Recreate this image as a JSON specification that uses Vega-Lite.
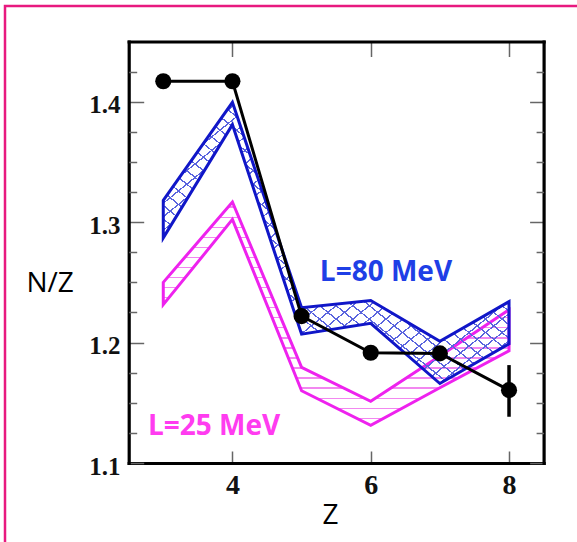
{
"$schema": "https://vega.github.io/schema/vega-lite/v6.json",
"width": 572, "height": 536,
"autosize": "none",
"padding": {"left": 5, "top": 6, "right": 0, "bottom": 0},
"background": "white",
"config": {
  "view": {"stroke": "#e8197f", "strokeWidth": 2.5, "strokeDash": [572, 1108, 540]},
  "axis": {"grid": false, "domainColor": "black", "domainWidth": 3.2, "domainCap": "square", "tickColor": "#666", "tickWidth": 1.5, "labelFont": "Liberation Serif", "labelFontWeight": "bold", "labelColor": "#111", "labelFlush": false, "labelOverlap": false, "labelBound": false, "titleFont": "Open Sans", "titleFontWeight": "normal", "titleColor": "black", "titleFontSize": 28}
},
"datasets": {
  "l25": [{"Z":3,"lo":1.2315,"hi":1.250},{"Z":4,"lo":1.3023,"hi":1.3167},{"Z":5,"lo":1.160,"hi":1.1794},{"Z":6,"lo":1.1312,"hi":1.1512},{"Z":7,"lo":1.1625,"hi":1.1888},{"Z":8,"lo":1.1932,"hi":1.2272}],
  "l80": [{"Z":3,"lo":1.287,"hi":1.318},{"Z":4,"lo":1.381,"hi":1.3995},{"Z":5,"lo":1.207,"hi":1.229},{"Z":6,"lo":1.216,"hi":1.235},{"Z":7,"lo":1.166,"hi":1.201},{"Z":8,"lo":1.199,"hi":1.234}],
  "exp": [{"Z":3,"NZ":1.417},{"Z":4,"NZ":1.417},{"Z":5,"NZ":1.222},{"Z":6,"NZ":1.1915},{"Z":7,"NZ":1.191},{"Z":8,"NZ":1.1605}],
  "err": [{"Z":8,"lo":1.1384,"hi":1.1813}],
  "notes": [{"Z":5.264,"NZ":1.2509,"label":"L=80 MeV","group":"L80"},{"Z":2.779,"NZ":1.1232,"label":"L=25 MeV","group":"L25"}]
},
"resolve": {"axis": {"x": "independent", "y": "independent"}},
"layer": [
  {
    "data": {"name": "l25"},
    "mark": {"type": "area", "stroke": "#ee22ee", "strokeWidth": 3, "strokeJoin": "miter",
      "fill": {"gradient": "linear", "x1": 0, "y1": 0, "x2": 0, "y2": 1, "stops": [
        {"offset":0,"color":"rgba(255,255,255,0)"},
        {"offset":0.020,"color":"rgba(255,255,255,0)"},{"offset":0.020,"color":"#f287f0"},{"offset":0.026,"color":"#f287f0"},{"offset":0.026,"color":"rgba(255,255,255,0)"},
        {"offset":0.065,"color":"rgba(255,255,255,0)"},{"offset":0.065,"color":"#f287f0"},{"offset":0.071,"color":"#f287f0"},{"offset":0.071,"color":"rgba(255,255,255,0)"},
        {"offset":0.110,"color":"rgba(255,255,255,0)"},{"offset":0.110,"color":"#f287f0"},{"offset":0.116,"color":"#f287f0"},{"offset":0.116,"color":"rgba(255,255,255,0)"},
        {"offset":0.155,"color":"rgba(255,255,255,0)"},{"offset":0.155,"color":"#f287f0"},{"offset":0.161,"color":"#f287f0"},{"offset":0.161,"color":"rgba(255,255,255,0)"},
        {"offset":0.200,"color":"rgba(255,255,255,0)"},{"offset":0.200,"color":"#f287f0"},{"offset":0.206,"color":"#f287f0"},{"offset":0.206,"color":"rgba(255,255,255,0)"},
        {"offset":0.245,"color":"rgba(255,255,255,0)"},{"offset":0.245,"color":"#f287f0"},{"offset":0.251,"color":"#f287f0"},{"offset":0.251,"color":"rgba(255,255,255,0)"},
        {"offset":0.290,"color":"rgba(255,255,255,0)"},{"offset":0.290,"color":"#f287f0"},{"offset":0.296,"color":"#f287f0"},{"offset":0.296,"color":"rgba(255,255,255,0)"},
        {"offset":0.335,"color":"rgba(255,255,255,0)"},{"offset":0.335,"color":"#f287f0"},{"offset":0.341,"color":"#f287f0"},{"offset":0.341,"color":"rgba(255,255,255,0)"},
        {"offset":0.380,"color":"rgba(255,255,255,0)"},{"offset":0.380,"color":"#f287f0"},{"offset":0.386,"color":"#f287f0"},{"offset":0.386,"color":"rgba(255,255,255,0)"},
        {"offset":0.425,"color":"rgba(255,255,255,0)"},{"offset":0.425,"color":"#f287f0"},{"offset":0.431,"color":"#f287f0"},{"offset":0.431,"color":"rgba(255,255,255,0)"},
        {"offset":0.470,"color":"rgba(255,255,255,0)"},{"offset":0.470,"color":"#f287f0"},{"offset":0.476,"color":"#f287f0"},{"offset":0.476,"color":"rgba(255,255,255,0)"},
        {"offset":0.515,"color":"rgba(255,255,255,0)"},{"offset":0.515,"color":"#f287f0"},{"offset":0.521,"color":"#f287f0"},{"offset":0.521,"color":"rgba(255,255,255,0)"},
        {"offset":0.560,"color":"rgba(255,255,255,0)"},{"offset":0.560,"color":"#f287f0"},{"offset":0.566,"color":"#f287f0"},{"offset":0.566,"color":"rgba(255,255,255,0)"},
        {"offset":0.605,"color":"rgba(255,255,255,0)"},{"offset":0.605,"color":"#f287f0"},{"offset":0.611,"color":"#f287f0"},{"offset":0.611,"color":"rgba(255,255,255,0)"},
        {"offset":0.650,"color":"rgba(255,255,255,0)"},{"offset":0.650,"color":"#f287f0"},{"offset":0.656,"color":"#f287f0"},{"offset":0.656,"color":"rgba(255,255,255,0)"},
        {"offset":0.695,"color":"rgba(255,255,255,0)"},{"offset":0.695,"color":"#f287f0"},{"offset":0.701,"color":"#f287f0"},{"offset":0.701,"color":"rgba(255,255,255,0)"},
        {"offset":0.740,"color":"rgba(255,255,255,0)"},{"offset":0.740,"color":"#f287f0"},{"offset":0.746,"color":"#f287f0"},{"offset":0.746,"color":"rgba(255,255,255,0)"},
        {"offset":0.785,"color":"rgba(255,255,255,0)"},{"offset":0.785,"color":"#f287f0"},{"offset":0.791,"color":"#f287f0"},{"offset":0.791,"color":"rgba(255,255,255,0)"},
        {"offset":0.830,"color":"rgba(255,255,255,0)"},{"offset":0.830,"color":"#f287f0"},{"offset":0.836,"color":"#f287f0"},{"offset":0.836,"color":"rgba(255,255,255,0)"},
        {"offset":0.875,"color":"rgba(255,255,255,0)"},{"offset":0.875,"color":"#f287f0"},{"offset":0.881,"color":"#f287f0"},{"offset":0.881,"color":"rgba(255,255,255,0)"},
        {"offset":0.920,"color":"rgba(255,255,255,0)"},{"offset":0.920,"color":"#f287f0"},{"offset":0.926,"color":"#f287f0"},{"offset":0.926,"color":"rgba(255,255,255,0)"},
        {"offset":0.965,"color":"rgba(255,255,255,0)"},{"offset":0.965,"color":"#f287f0"},{"offset":0.971,"color":"#f287f0"},{"offset":0.971,"color":"rgba(255,255,255,0)"},
        {"offset":1,"color":"rgba(255,255,255,0)"}
      ]}},
    "encoding": {
      "x": {"field": "Z", "type": "quantitative", "scale": {"domain": [2.5, 8.5], "range": [123.7, 538.6], "nice": false, "zero": false},
        "axis": {"orient": "bottom", "offset": -79, "values": [4, 6, 8], "format": "d", "tickSize": -12, "labelFontSize": 28, "labelBaseline": "alphabetic", "labelPadding": 42, "labelAlign": "center", "title": "Z", "titleX": 325, "titleY": 60, "titleAlign": "center", "titleBaseline": "alphabetic"}},
      "y": {"field": "hi", "type": "quantitative", "scale": {"domain": [1.1, 1.45], "range": [457, 35.5], "nice": false, "zero": false},
        "axis": {"orient": "left", "offset": -123.7, "values": [1.1, 1.2, 1.3, 1.4], "format": ".1f", "tickSize": -15, "labelFontSize": 25, "labelBaseline": "alphabetic", "labelOffset": 11, "labelPadding": 23.7, "labelAlign": "right", "title": "N/Z", "titleAngle": 0, "titleX": -79, "titleY": 285.5, "titleAlign": "center", "titleBaseline": "alphabetic"}},
      "y2": {"field": "lo"}
    }
  },
  {
    "data": {"name": "l80"},
    "mark": {"type": "area", "strokeWidth": 0,
      "fill": {"gradient": "linear", "x1": 1, "y1": 0, "x2": 0, "y2": 1, "stops": [
        {"offset":0,"color":"rgba(255,255,255,0)"},
        {"offset":0.010,"color":"rgba(255,255,255,0)"},{"offset":0.010,"color":"#5a64de"},{"offset":0.013,"color":"#5a64de"},{"offset":0.013,"color":"rgba(255,255,255,0)"},
        {"offset":0.034,"color":"rgba(255,255,255,0)"},{"offset":0.034,"color":"#5a64de"},{"offset":0.037,"color":"#5a64de"},{"offset":0.037,"color":"rgba(255,255,255,0)"},
        {"offset":0.058,"color":"rgba(255,255,255,0)"},{"offset":0.058,"color":"#5a64de"},{"offset":0.061,"color":"#5a64de"},{"offset":0.061,"color":"rgba(255,255,255,0)"},
        {"offset":0.082,"color":"rgba(255,255,255,0)"},{"offset":0.082,"color":"#5a64de"},{"offset":0.085,"color":"#5a64de"},{"offset":0.085,"color":"rgba(255,255,255,0)"},
        {"offset":0.106,"color":"rgba(255,255,255,0)"},{"offset":0.106,"color":"#5a64de"},{"offset":0.109,"color":"#5a64de"},{"offset":0.109,"color":"rgba(255,255,255,0)"},
        {"offset":0.130,"color":"rgba(255,255,255,0)"},{"offset":0.130,"color":"#5a64de"},{"offset":0.133,"color":"#5a64de"},{"offset":0.133,"color":"rgba(255,255,255,0)"},
        {"offset":0.154,"color":"rgba(255,255,255,0)"},{"offset":0.154,"color":"#5a64de"},{"offset":0.157,"color":"#5a64de"},{"offset":0.157,"color":"rgba(255,255,255,0)"},
        {"offset":0.178,"color":"rgba(255,255,255,0)"},{"offset":0.178,"color":"#5a64de"},{"offset":0.181,"color":"#5a64de"},{"offset":0.181,"color":"rgba(255,255,255,0)"},
        {"offset":0.202,"color":"rgba(255,255,255,0)"},{"offset":0.202,"color":"#5a64de"},{"offset":0.205,"color":"#5a64de"},{"offset":0.205,"color":"rgba(255,255,255,0)"},
        {"offset":0.226,"color":"rgba(255,255,255,0)"},{"offset":0.226,"color":"#5a64de"},{"offset":0.229,"color":"#5a64de"},{"offset":0.229,"color":"rgba(255,255,255,0)"},
        {"offset":0.250,"color":"rgba(255,255,255,0)"},{"offset":0.250,"color":"#5a64de"},{"offset":0.253,"color":"#5a64de"},{"offset":0.253,"color":"rgba(255,255,255,0)"},
        {"offset":0.274,"color":"rgba(255,255,255,0)"},{"offset":0.274,"color":"#5a64de"},{"offset":0.277,"color":"#5a64de"},{"offset":0.277,"color":"rgba(255,255,255,0)"},
        {"offset":0.298,"color":"rgba(255,255,255,0)"},{"offset":0.298,"color":"#5a64de"},{"offset":0.301,"color":"#5a64de"},{"offset":0.301,"color":"rgba(255,255,255,0)"},
        {"offset":0.322,"color":"rgba(255,255,255,0)"},{"offset":0.322,"color":"#5a64de"},{"offset":0.325,"color":"#5a64de"},{"offset":0.325,"color":"rgba(255,255,255,0)"},
        {"offset":0.346,"color":"rgba(255,255,255,0)"},{"offset":0.346,"color":"#5a64de"},{"offset":0.349,"color":"#5a64de"},{"offset":0.349,"color":"rgba(255,255,255,0)"},
        {"offset":0.370,"color":"rgba(255,255,255,0)"},{"offset":0.370,"color":"#5a64de"},{"offset":0.373,"color":"#5a64de"},{"offset":0.373,"color":"rgba(255,255,255,0)"},
        {"offset":0.394,"color":"rgba(255,255,255,0)"},{"offset":0.394,"color":"#5a64de"},{"offset":0.397,"color":"#5a64de"},{"offset":0.397,"color":"rgba(255,255,255,0)"},
        {"offset":0.418,"color":"rgba(255,255,255,0)"},{"offset":0.418,"color":"#5a64de"},{"offset":0.421,"color":"#5a64de"},{"offset":0.421,"color":"rgba(255,255,255,0)"},
        {"offset":0.442,"color":"rgba(255,255,255,0)"},{"offset":0.442,"color":"#5a64de"},{"offset":0.445,"color":"#5a64de"},{"offset":0.445,"color":"rgba(255,255,255,0)"},
        {"offset":0.466,"color":"rgba(255,255,255,0)"},{"offset":0.466,"color":"#5a64de"},{"offset":0.469,"color":"#5a64de"},{"offset":0.469,"color":"rgba(255,255,255,0)"},
        {"offset":0.490,"color":"rgba(255,255,255,0)"},{"offset":0.490,"color":"#5a64de"},{"offset":0.493,"color":"#5a64de"},{"offset":0.493,"color":"rgba(255,255,255,0)"},
        {"offset":0.514,"color":"rgba(255,255,255,0)"},{"offset":0.514,"color":"#5a64de"},{"offset":0.517,"color":"#5a64de"},{"offset":0.517,"color":"rgba(255,255,255,0)"},
        {"offset":0.538,"color":"rgba(255,255,255,0)"},{"offset":0.538,"color":"#5a64de"},{"offset":0.541,"color":"#5a64de"},{"offset":0.541,"color":"rgba(255,255,255,0)"},
        {"offset":0.562,"color":"rgba(255,255,255,0)"},{"offset":0.562,"color":"#5a64de"},{"offset":0.565,"color":"#5a64de"},{"offset":0.565,"color":"rgba(255,255,255,0)"},
        {"offset":0.586,"color":"rgba(255,255,255,0)"},{"offset":0.586,"color":"#5a64de"},{"offset":0.589,"color":"#5a64de"},{"offset":0.589,"color":"rgba(255,255,255,0)"},
        {"offset":0.610,"color":"rgba(255,255,255,0)"},{"offset":0.610,"color":"#5a64de"},{"offset":0.613,"color":"#5a64de"},{"offset":0.613,"color":"rgba(255,255,255,0)"},
        {"offset":0.634,"color":"rgba(255,255,255,0)"},{"offset":0.634,"color":"#5a64de"},{"offset":0.637,"color":"#5a64de"},{"offset":0.637,"color":"rgba(255,255,255,0)"},
        {"offset":0.658,"color":"rgba(255,255,255,0)"},{"offset":0.658,"color":"#5a64de"},{"offset":0.661,"color":"#5a64de"},{"offset":0.661,"color":"rgba(255,255,255,0)"},
        {"offset":0.682,"color":"rgba(255,255,255,0)"},{"offset":0.682,"color":"#5a64de"},{"offset":0.685,"color":"#5a64de"},{"offset":0.685,"color":"rgba(255,255,255,0)"},
        {"offset":0.706,"color":"rgba(255,255,255,0)"},{"offset":0.706,"color":"#5a64de"},{"offset":0.709,"color":"#5a64de"},{"offset":0.709,"color":"rgba(255,255,255,0)"},
        {"offset":0.730,"color":"rgba(255,255,255,0)"},{"offset":0.730,"color":"#5a64de"},{"offset":0.733,"color":"#5a64de"},{"offset":0.733,"color":"rgba(255,255,255,0)"},
        {"offset":0.754,"color":"rgba(255,255,255,0)"},{"offset":0.754,"color":"#5a64de"},{"offset":0.757,"color":"#5a64de"},{"offset":0.757,"color":"rgba(255,255,255,0)"},
        {"offset":0.778,"color":"rgba(255,255,255,0)"},{"offset":0.778,"color":"#5a64de"},{"offset":0.781,"color":"#5a64de"},{"offset":0.781,"color":"rgba(255,255,255,0)"},
        {"offset":0.802,"color":"rgba(255,255,255,0)"},{"offset":0.802,"color":"#5a64de"},{"offset":0.805,"color":"#5a64de"},{"offset":0.805,"color":"rgba(255,255,255,0)"},
        {"offset":0.826,"color":"rgba(255,255,255,0)"},{"offset":0.826,"color":"#5a64de"},{"offset":0.829,"color":"#5a64de"},{"offset":0.829,"color":"rgba(255,255,255,0)"},
        {"offset":0.850,"color":"rgba(255,255,255,0)"},{"offset":0.850,"color":"#5a64de"},{"offset":0.853,"color":"#5a64de"},{"offset":0.853,"color":"rgba(255,255,255,0)"},
        {"offset":0.874,"color":"rgba(255,255,255,0)"},{"offset":0.874,"color":"#5a64de"},{"offset":0.877,"color":"#5a64de"},{"offset":0.877,"color":"rgba(255,255,255,0)"},
        {"offset":0.898,"color":"rgba(255,255,255,0)"},{"offset":0.898,"color":"#5a64de"},{"offset":0.901,"color":"#5a64de"},{"offset":0.901,"color":"rgba(255,255,255,0)"},
        {"offset":0.922,"color":"rgba(255,255,255,0)"},{"offset":0.922,"color":"#5a64de"},{"offset":0.925,"color":"#5a64de"},{"offset":0.925,"color":"rgba(255,255,255,0)"},
        {"offset":0.946,"color":"rgba(255,255,255,0)"},{"offset":0.946,"color":"#5a64de"},{"offset":0.949,"color":"#5a64de"},{"offset":0.949,"color":"rgba(255,255,255,0)"},
        {"offset":0.970,"color":"rgba(255,255,255,0)"},{"offset":0.970,"color":"#5a64de"},{"offset":0.973,"color":"#5a64de"},{"offset":0.973,"color":"rgba(255,255,255,0)"},
        {"offset":1,"color":"rgba(255,255,255,0)"}
      ]}},
    "encoding": {
      "x": {"field": "Z", "type": "quantitative", "scale": {"domain": [2.5, 8.5], "range": [123.7, 538.6], "nice": false, "zero": false}, "axis": null},
      "y": {"field": "hi", "type": "quantitative", "scale": {"domain": [1.1, 1.45], "range": [457, 35.5], "nice": false, "zero": false},
        "axis": {"orient": "left", "offset": -123.7, "values": [1.125, 1.15, 1.175, 1.225, 1.25, 1.275, 1.325, 1.35, 1.375, 1.425], "tickSize": -8, "labels": false, "domain": false, "title": null}},
      "y2": {"field": "lo"}
    }
  },
  {
    "data": {"name": "l80"},
    "mark": {"type": "area", "stroke": "#1016c8", "strokeWidth": 3, "strokeJoin": "miter",
      "fill": {"gradient": "linear", "x1": 0, "y1": 0, "x2": 1, "y2": 1, "stops": [
        {"offset":0,"color":"rgba(255,255,255,0)"},
        {"offset":0.010,"color":"rgba(255,255,255,0)"},{"offset":0.010,"color":"#5a64de"},{"offset":0.013,"color":"#5a64de"},{"offset":0.013,"color":"rgba(255,255,255,0)"},
        {"offset":0.034,"color":"rgba(255,255,255,0)"},{"offset":0.034,"color":"#5a64de"},{"offset":0.037,"color":"#5a64de"},{"offset":0.037,"color":"rgba(255,255,255,0)"},
        {"offset":0.058,"color":"rgba(255,255,255,0)"},{"offset":0.058,"color":"#5a64de"},{"offset":0.061,"color":"#5a64de"},{"offset":0.061,"color":"rgba(255,255,255,0)"},
        {"offset":0.082,"color":"rgba(255,255,255,0)"},{"offset":0.082,"color":"#5a64de"},{"offset":0.085,"color":"#5a64de"},{"offset":0.085,"color":"rgba(255,255,255,0)"},
        {"offset":0.106,"color":"rgba(255,255,255,0)"},{"offset":0.106,"color":"#5a64de"},{"offset":0.109,"color":"#5a64de"},{"offset":0.109,"color":"rgba(255,255,255,0)"},
        {"offset":0.130,"color":"rgba(255,255,255,0)"},{"offset":0.130,"color":"#5a64de"},{"offset":0.133,"color":"#5a64de"},{"offset":0.133,"color":"rgba(255,255,255,0)"},
        {"offset":0.154,"color":"rgba(255,255,255,0)"},{"offset":0.154,"color":"#5a64de"},{"offset":0.157,"color":"#5a64de"},{"offset":0.157,"color":"rgba(255,255,255,0)"},
        {"offset":0.178,"color":"rgba(255,255,255,0)"},{"offset":0.178,"color":"#5a64de"},{"offset":0.181,"color":"#5a64de"},{"offset":0.181,"color":"rgba(255,255,255,0)"},
        {"offset":0.202,"color":"rgba(255,255,255,0)"},{"offset":0.202,"color":"#5a64de"},{"offset":0.205,"color":"#5a64de"},{"offset":0.205,"color":"rgba(255,255,255,0)"},
        {"offset":0.226,"color":"rgba(255,255,255,0)"},{"offset":0.226,"color":"#5a64de"},{"offset":0.229,"color":"#5a64de"},{"offset":0.229,"color":"rgba(255,255,255,0)"},
        {"offset":0.250,"color":"rgba(255,255,255,0)"},{"offset":0.250,"color":"#5a64de"},{"offset":0.253,"color":"#5a64de"},{"offset":0.253,"color":"rgba(255,255,255,0)"},
        {"offset":0.274,"color":"rgba(255,255,255,0)"},{"offset":0.274,"color":"#5a64de"},{"offset":0.277,"color":"#5a64de"},{"offset":0.277,"color":"rgba(255,255,255,0)"},
        {"offset":0.298,"color":"rgba(255,255,255,0)"},{"offset":0.298,"color":"#5a64de"},{"offset":0.301,"color":"#5a64de"},{"offset":0.301,"color":"rgba(255,255,255,0)"},
        {"offset":0.322,"color":"rgba(255,255,255,0)"},{"offset":0.322,"color":"#5a64de"},{"offset":0.325,"color":"#5a64de"},{"offset":0.325,"color":"rgba(255,255,255,0)"},
        {"offset":0.346,"color":"rgba(255,255,255,0)"},{"offset":0.346,"color":"#5a64de"},{"offset":0.349,"color":"#5a64de"},{"offset":0.349,"color":"rgba(255,255,255,0)"},
        {"offset":0.370,"color":"rgba(255,255,255,0)"},{"offset":0.370,"color":"#5a64de"},{"offset":0.373,"color":"#5a64de"},{"offset":0.373,"color":"rgba(255,255,255,0)"},
        {"offset":0.394,"color":"rgba(255,255,255,0)"},{"offset":0.394,"color":"#5a64de"},{"offset":0.397,"color":"#5a64de"},{"offset":0.397,"color":"rgba(255,255,255,0)"},
        {"offset":0.418,"color":"rgba(255,255,255,0)"},{"offset":0.418,"color":"#5a64de"},{"offset":0.421,"color":"#5a64de"},{"offset":0.421,"color":"rgba(255,255,255,0)"},
        {"offset":0.442,"color":"rgba(255,255,255,0)"},{"offset":0.442,"color":"#5a64de"},{"offset":0.445,"color":"#5a64de"},{"offset":0.445,"color":"rgba(255,255,255,0)"},
        {"offset":0.466,"color":"rgba(255,255,255,0)"},{"offset":0.466,"color":"#5a64de"},{"offset":0.469,"color":"#5a64de"},{"offset":0.469,"color":"rgba(255,255,255,0)"},
        {"offset":0.490,"color":"rgba(255,255,255,0)"},{"offset":0.490,"color":"#5a64de"},{"offset":0.493,"color":"#5a64de"},{"offset":0.493,"color":"rgba(255,255,255,0)"},
        {"offset":0.514,"color":"rgba(255,255,255,0)"},{"offset":0.514,"color":"#5a64de"},{"offset":0.517,"color":"#5a64de"},{"offset":0.517,"color":"rgba(255,255,255,0)"},
        {"offset":0.538,"color":"rgba(255,255,255,0)"},{"offset":0.538,"color":"#5a64de"},{"offset":0.541,"color":"#5a64de"},{"offset":0.541,"color":"rgba(255,255,255,0)"},
        {"offset":0.562,"color":"rgba(255,255,255,0)"},{"offset":0.562,"color":"#5a64de"},{"offset":0.565,"color":"#5a64de"},{"offset":0.565,"color":"rgba(255,255,255,0)"},
        {"offset":0.586,"color":"rgba(255,255,255,0)"},{"offset":0.586,"color":"#5a64de"},{"offset":0.589,"color":"#5a64de"},{"offset":0.589,"color":"rgba(255,255,255,0)"},
        {"offset":0.610,"color":"rgba(255,255,255,0)"},{"offset":0.610,"color":"#5a64de"},{"offset":0.613,"color":"#5a64de"},{"offset":0.613,"color":"rgba(255,255,255,0)"},
        {"offset":0.634,"color":"rgba(255,255,255,0)"},{"offset":0.634,"color":"#5a64de"},{"offset":0.637,"color":"#5a64de"},{"offset":0.637,"color":"rgba(255,255,255,0)"},
        {"offset":0.658,"color":"rgba(255,255,255,0)"},{"offset":0.658,"color":"#5a64de"},{"offset":0.661,"color":"#5a64de"},{"offset":0.661,"color":"rgba(255,255,255,0)"},
        {"offset":0.682,"color":"rgba(255,255,255,0)"},{"offset":0.682,"color":"#5a64de"},{"offset":0.685,"color":"#5a64de"},{"offset":0.685,"color":"rgba(255,255,255,0)"},
        {"offset":0.706,"color":"rgba(255,255,255,0)"},{"offset":0.706,"color":"#5a64de"},{"offset":0.709,"color":"#5a64de"},{"offset":0.709,"color":"rgba(255,255,255,0)"},
        {"offset":0.730,"color":"rgba(255,255,255,0)"},{"offset":0.730,"color":"#5a64de"},{"offset":0.733,"color":"#5a64de"},{"offset":0.733,"color":"rgba(255,255,255,0)"},
        {"offset":0.754,"color":"rgba(255,255,255,0)"},{"offset":0.754,"color":"#5a64de"},{"offset":0.757,"color":"#5a64de"},{"offset":0.757,"color":"rgba(255,255,255,0)"},
        {"offset":0.778,"color":"rgba(255,255,255,0)"},{"offset":0.778,"color":"#5a64de"},{"offset":0.781,"color":"#5a64de"},{"offset":0.781,"color":"rgba(255,255,255,0)"},
        {"offset":0.802,"color":"rgba(255,255,255,0)"},{"offset":0.802,"color":"#5a64de"},{"offset":0.805,"color":"#5a64de"},{"offset":0.805,"color":"rgba(255,255,255,0)"},
        {"offset":0.826,"color":"rgba(255,255,255,0)"},{"offset":0.826,"color":"#5a64de"},{"offset":0.829,"color":"#5a64de"},{"offset":0.829,"color":"rgba(255,255,255,0)"},
        {"offset":0.850,"color":"rgba(255,255,255,0)"},{"offset":0.850,"color":"#5a64de"},{"offset":0.853,"color":"#5a64de"},{"offset":0.853,"color":"rgba(255,255,255,0)"},
        {"offset":0.874,"color":"rgba(255,255,255,0)"},{"offset":0.874,"color":"#5a64de"},{"offset":0.877,"color":"#5a64de"},{"offset":0.877,"color":"rgba(255,255,255,0)"},
        {"offset":0.898,"color":"rgba(255,255,255,0)"},{"offset":0.898,"color":"#5a64de"},{"offset":0.901,"color":"#5a64de"},{"offset":0.901,"color":"rgba(255,255,255,0)"},
        {"offset":0.922,"color":"rgba(255,255,255,0)"},{"offset":0.922,"color":"#5a64de"},{"offset":0.925,"color":"#5a64de"},{"offset":0.925,"color":"rgba(255,255,255,0)"},
        {"offset":0.946,"color":"rgba(255,255,255,0)"},{"offset":0.946,"color":"#5a64de"},{"offset":0.949,"color":"#5a64de"},{"offset":0.949,"color":"rgba(255,255,255,0)"},
        {"offset":0.970,"color":"rgba(255,255,255,0)"},{"offset":0.970,"color":"#5a64de"},{"offset":0.973,"color":"#5a64de"},{"offset":0.973,"color":"rgba(255,255,255,0)"},
        {"offset":1,"color":"rgba(255,255,255,0)"}
      ]}},
    "encoding": {
      "x": {"field": "Z", "type": "quantitative", "scale": {"domain": [2.5, 8.5], "range": [123.7, 538.6], "nice": false, "zero": false},
        "axis": {"orient": "top", "offset": -35.5, "values": [4, 6, 8], "tickSize": -15, "labels": false, "title": null}},
      "y": {"field": "hi", "type": "quantitative", "scale": {"domain": [1.1, 1.45], "range": [457, 35.5], "nice": false, "zero": false},
        "axis": {"orient": "right", "offset": -33.4, "values": [1.1, 1.2, 1.3, 1.4], "tickSize": -14, "labels": false, "title": null}},
      "y2": {"field": "lo"}
    }
  },
  {
    "data": {"name": "exp"},
    "mark": {"type": "line", "color": "black", "strokeWidth": 3},
    "encoding": {
      "x": {"field": "Z", "type": "quantitative", "scale": {"domain": [2.5, 8.5], "range": [123.7, 538.6], "nice": false, "zero": false}, "axis": null},
      "y": {"field": "NZ", "type": "quantitative", "scale": {"domain": [1.1, 1.45], "range": [457, 35.5], "nice": false, "zero": false},
        "axis": {"orient": "right", "offset": -33.4, "values": [1.125, 1.15, 1.175, 1.225, 1.25, 1.275, 1.325, 1.35, 1.375, 1.425], "tickSize": -7.5, "labels": false, "domain": false, "title": null}}
    }
  },
  {
    "data": {"name": "err"},
    "mark": {"type": "rule", "color": "black", "strokeWidth": 3.5},
    "encoding": {
      "x": {"field": "Z", "type": "quantitative", "axis": null},
      "y": {"field": "lo", "type": "quantitative", "axis": null},
      "y2": {"field": "hi"}
    }
  },
  {
    "data": {"name": "exp"},
    "mark": {"type": "circle", "color": "black", "size": 260, "opacity": 1},
    "encoding": {
      "x": {"field": "Z", "type": "quantitative", "axis": null},
      "y": {"field": "NZ", "type": "quantitative", "axis": null}
    }
  },
  {
    "data": {"name": "notes"},
    "mark": {"type": "text", "font": "Open Sans", "fontWeight": "bold", "fontSize": 28, "align": "left", "baseline": "alphabetic"},
    "encoding": {
      "x": {"field": "Z", "type": "quantitative", "axis": null},
      "y": {"field": "NZ", "type": "quantitative", "axis": null},
      "text": {"field": "label"},
      "color": {"field": "group", "type": "nominal", "scale": {"domain": ["L80", "L25"], "range": ["#1f3fe6", "#ff3cf0"]}, "legend": null}
    }
  }
]
}
